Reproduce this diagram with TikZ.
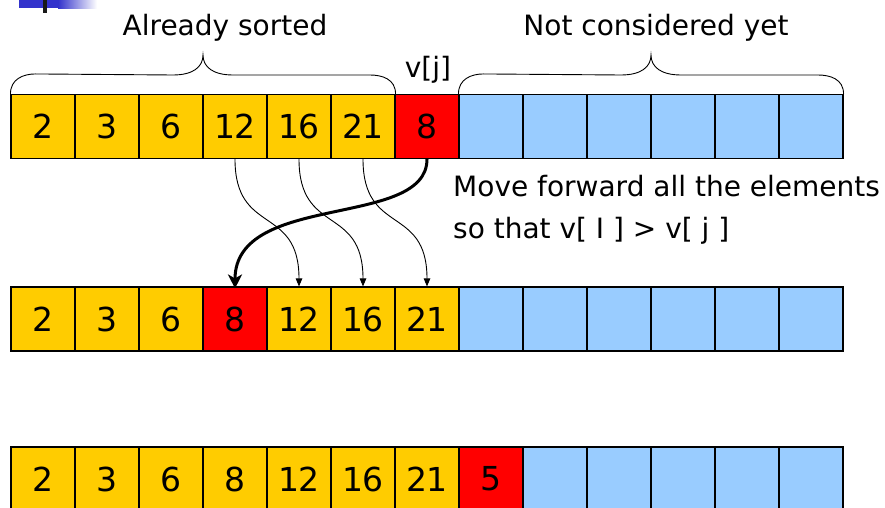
\documentclass[tikz,border=0pt]{standalone}
\usepackage{fontspec}
\setmainfont{DejaVu Sans}
\usetikzlibrary{arrows.meta}
\definecolor{cyel}{HTML}{FFCC00}
\definecolor{cred}{HTML}{FF0000}
\definecolor{cblue}{HTML}{99CCFF}
\definecolor{cbar}{HTML}{3333CC}
\begin{document}
\begin{tikzpicture}[x=1pt,y=-1pt,
  cell/.style={draw=black, line width=1.1pt, minimum width=64pt, minimum height=64pt, inner sep=0pt, font=\fontsize{33}{36}\selectfont},
  ycell/.style={cell, fill=cyel},
  rcell/.style={cell, fill=cred},
  bcell/.style={cell, fill=cblue},
  lbl/.style={inner sep=0pt, font=\fontsize{28}{42}\selectfont},
  brace/.style={draw=black, line width=0.9pt},
  thin/.style={draw=black, line width=0.9pt, -{Triangle[length=8pt,width=6.5pt]}},
  thick/.style={draw=black, line width=3pt, -{Stealth[length=14pt,width=14pt,inset=4pt]}, shorten >=-2pt}
]
\useasboundingbox (0,0) rectangle (885,508);
% slide artifact, top-left
\fill[cbar] (19,0) rectangle (58,8);
\shade[left color=cbar, right color=white] (58,0) rectangle (97,8.5);
\fill[black!90] (43,0) rectangle (47,13);

% row 1
\foreach \v [count=\i] in {2,3,6,12,16,21}
  \node[ycell] (a\i) at ({43+64*(\i-1)},126.5) {\v};
\node[rcell] (a7) at ({43+64*6},126.5) {8};
\foreach \i in {8,...,13}
  \node[bcell] (a\i) at ({43+64*(\i-1)},126.5) {};

% row 2
\foreach \v [count=\i] in {2,3,6}
  \node[ycell] (b\i) at ({43+64*(\i-1)},319) {\v};
\node[rcell] (b4) at ({43+64*3},319) {8};
\foreach \v [count=\i from 5] in {12,16,21}
  \node[ycell] (b\i) at ({43+64*(\i-1)},319) {\v};
\foreach \i in {8,...,13}
  \node[bcell] (b\i) at ({43+64*(\i-1)},319) {};

% row 3
\foreach \v [count=\i] in {2,3,6,8,12,16,21}
  \node[ycell] (c\i) at ({43+64*(\i-1)},479) {\v};
\node[rcell] (c8) at ({43+64*7},479) {5};
\foreach \i in {9,...,13}
  \node[bcell] (c\i) at ({43+64*(\i-1)},479) {};

% braces
\draw[brace] (a1.north west) .. controls +(0,-15) and +(-12,0) .. ++(25,-20)
  -- (173,75) .. controls +(20,0) and +(0,12) .. (203,55)
  .. controls +(0,12) and +(-20,0) .. (233,75)
  -- (370,75) .. controls +(12,0) and +(0,-15) .. (a6.north east);
\draw[brace] (a8.north west) .. controls +(0,-15) and +(-12,0) .. ++(25,-20)
  -- (621,75) .. controls +(20,0) and +(0,12) .. (651,55)
  .. controls +(0,12) and +(-20,0) .. (681,75)
  -- (818,75) .. controls +(12,0) and +(0,-15) .. (a13.north east);

% labels
\node[lbl, anchor=base] (ls) at (225,36) {Already sorted};
\node[lbl, anchor=base] (ln) at (656,36) {Not considered yet};
\node[lbl, anchor=base] (lv) at (428,78) {v[j]};
\node[lbl, anchor=base west, align=left] (lm) at (453,196) {Move forward all the elements};
\node[lbl, anchor=base west, align=left] (lm2) at (453,238) {so that v[ I ] > v[ j ]};

% arrows
\draw[thin] (a4.south) .. controls +(0,77) and +(0,-82) .. (b5.north);
\draw[thin] (a5.south) .. controls +(0,77) and +(0,-82) .. (b6.north);
\draw[thin] (a6.south) .. controls +(0,77) and +(0,-82) .. (b7.north);
\draw[thick] (a7.south) .. controls +(0,70) and +(0,-95) .. (b4.north);
\end{tikzpicture}
\end{document}
